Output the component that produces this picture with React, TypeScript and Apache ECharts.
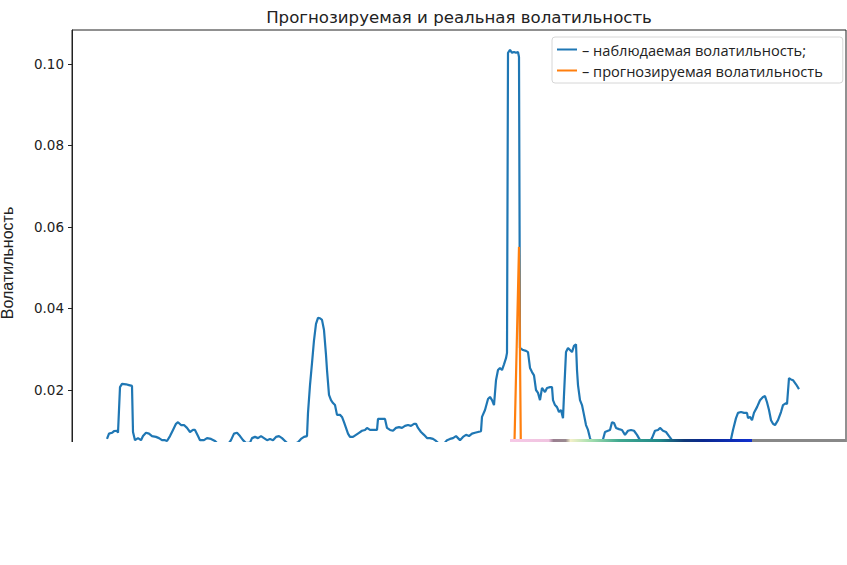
import React, { useEffect, useRef } from "react";
import * as echarts from "echarts";

const chartTitle = "Прогнозируемая и реальная волатильность";
const yAxisName = "Волатильность";
const seriesNames = ["– наблюдаемая волатильность;", "– прогнозируемая волатильность"];
const yTicks = [0.02, 0.04, 0.06, 0.08, 0.1];

// observed volatility: time index and value
const obsT = [
  0, 2, 5, 7, 10, 11, 13, 15, 19, 22, 25, 26, 28, 31, 34, 36, 39, 42, 45, 49, 52, 55, 58, 60, 63, 66, 69, 71, 74, 77,
  80, 83, 86, 88, 91, 93, 97, 100, 104, 108, 110, 116, 122, 124, 127, 130, 133, 136, 139, 143, 145, 148, 151, 154, 157,
  160, 163, 166, 169, 172, 175, 178, 181, 186, 191, 194, 197, 200, 201, 203, 205, 207, 209, 211, 213, 215, 217, 219,
  220, 222, 224, 226, 228, 230, 233, 235, 237, 239, 241, 243, 246, 249, 252, 255, 258, 260, 263, 267, 270, 271, 275,
  278, 280, 283, 286, 289, 292, 295, 298, 301, 304, 307, 309, 311, 314, 317, 320, 323, 326, 329, 333, 337, 340, 343,
  346, 349, 351, 353, 356, 359, 362, 365, 368, 371, 374, 375, 378, 381, 383, 385, 387, 389, 391, 393, 395, 397, 399,
  400, 401, 403, 405, 407, 409, 411, 412, 413, 416, 419, 421, 423, 425, 427, 429, 431, 433, 435, 438, 440, 443, 445,
  446, 448, 450, 452, 454, 456, 457, 459, 461, 463, 465, 467, 469, 470, 471, 473, 475, 477, 479, 481, 483, 485, 490,
  495, 498, 501, 503, 505, 507, 509, 512, 515, 518, 521, 524, 527, 530, 533, 536, 541, 545, 548, 551, 553, 556, 559,
  562, 565, 568, 583, 598, 613, 623, 626, 629, 631, 634, 637, 640, 641, 643, 645, 647, 650, 653, 656, 658, 660, 662,
  664, 666, 668, 671, 674, 676, 679, 680, 682, 684, 686, 689, 692,
];
const obsV = [
  0.008, 0.0093, 0.0095, 0.0099, 0.01, 0.0095, 0.0207, 0.0215, 0.0214, 0.0212, 0.021, 0.0097, 0.0077, 0.0082, 0.0077,
  0.0087, 0.0095, 0.0093, 0.0087, 0.0085, 0.0082, 0.0077, 0.0077, 0.0075, 0.0087, 0.0102, 0.0117, 0.0121, 0.0114,
  0.0114, 0.0107, 0.0097, 0.0102, 0.0102, 0.0087, 0.0077, 0.0077, 0.0082, 0.008, 0.0075, 0.007, 0.0062, 0.007, 0.0077,
  0.0093, 0.0095, 0.0087, 0.0077, 0.007, 0.0071, 0.0082, 0.0085, 0.0082, 0.0087, 0.0082, 0.0077, 0.008, 0.0077, 0.0085,
  0.0087, 0.0082, 0.0075, 0.0068, 0.0066, 0.0072, 0.008, 0.0085, 0.0087, 0.0144, 0.0212, 0.0266, 0.0322, 0.0362,
  0.0377, 0.0376, 0.0372, 0.0347, 0.0286, 0.0249, 0.0188, 0.0175, 0.0168, 0.0163, 0.0139, 0.0139, 0.0134, 0.0121,
  0.0107, 0.0093, 0.0085, 0.0085, 0.009, 0.0095, 0.01, 0.0102, 0.0107, 0.0102, 0.0102, 0.0102, 0.0129, 0.0129, 0.0129,
  0.0107, 0.0102, 0.01, 0.0107, 0.0109, 0.0107, 0.0112, 0.0114, 0.0112, 0.0117, 0.0117, 0.0107, 0.0097, 0.009, 0.0082,
  0.0082, 0.008, 0.0075, 0.0066, 0.0068, 0.0077, 0.008, 0.0082, 0.0087, 0.0082, 0.0077, 0.0085, 0.009, 0.0087, 0.0093,
  0.0095, 0.0097, 0.0099, 0.0134, 0.0151, 0.0178, 0.0183, 0.0175, 0.0163, 0.0224, 0.0249, 0.0254, 0.0249, 0.0263,
  0.0278, 0.0291, 0.1027, 0.1034, 0.1027, 0.1029, 0.1027, 0.1029, 0.1017, 0.0303, 0.0298, 0.0296, 0.0293, 0.0254,
  0.0244, 0.0236, 0.02, 0.0193, 0.0175, 0.0205, 0.0195, 0.0205, 0.0207, 0.0207, 0.0175, 0.0163, 0.0158, 0.0146, 0.0151,
  0.0131, 0.0188, 0.0293, 0.0303, 0.0298, 0.0293, 0.0308, 0.0312, 0.0249, 0.0212, 0.0175, 0.0163, 0.0139, 0.0114,
  0.0102, 0.0082, 0.007, 0.0066, 0.007, 0.0097, 0.01, 0.0102, 0.0121, 0.0119, 0.0107, 0.0104, 0.0102, 0.009, 0.01,
  0.0102, 0.01, 0.009, 0.0077, 0.0068, 0.0066, 0.0082, 0.01, 0.0102, 0.0107, 0.01, 0.0097, 0.0087, 0.0077, 0.0068,
  0.0062, 0.0064, 0.0062, 0.0068, 0.0102, 0.0131, 0.0144, 0.0146, 0.0144, 0.0144, 0.0131, 0.0134, 0.0126, 0.0144,
  0.0158, 0.0175, 0.0183, 0.0185, 0.017, 0.0151, 0.0126, 0.0117, 0.0114, 0.0126, 0.0146, 0.0163, 0.0168, 0.0165,
  0.0229, 0.0226, 0.0224, 0.0214, 0.0202,
];

// forecast volatility
const predT = [395, 407, 412, 414, 425];
const predV = [0.002, 0.002, 0.0551, 0.002, 0.002];

export default function App() {
  const ref = useRef<HTMLDivElement>(null);
  useEffect(() => {
    if (!ref.current) return;
    const chart = echarts.init(ref.current, null, { renderer: "svg" });
    const obs = obsT.map((t, i) => [t, obsV[i]]);
    const pred = predT.map((t, i) => [t, predV[i]]);
    const stripGradient = new echarts.graphic.LinearGradient(0, 0, 1, 0, [
      { offset: 0, color: "#f6c8e6" },
      { offset: 0.16, color: "#f0c4e0" },
      { offset: 0.18, color: "#9a7f90" },
      { offset: 0.23, color: "#9a8a90" },
      { offset: 0.25, color: "#f4f0c8" },
      { offset: 0.33, color: "#a8e0b0" },
      { offset: 0.45, color: "#40a890" },
      { offset: 0.62, color: "#208888" },
      { offset: 0.72, color: "#103878" },
      { offset: 0.8, color: "#0a2890" },
      { offset: 1, color: "#1030d0" },
    ]);
    chart.setOption({
      animation: false,
      backgroundColor: "#ffffff",
      grid: {
        left: 72,
        right: 1,
        top: 30,
        bottom: 69,
        containLabel: false,
        outerBoundsMode: "none",
        show: true,
        borderColor: "#222",
        borderWidth: 1,
        backgroundColor: "transparent",
      },
      xAxis: {
        type: "value",
        min: -35,
        max: 739,
        show: false,
      },
      yAxis: {
        type: "value",
        min: -0.006,
        max: 0.1083,
        name: yAxisName,
        nameLocation: "middle",
        nameRotate: 90,
        nameGap: 57,
        nameTextStyle: { fontFamily: "Liberation Sans", fontSize: 16, color: "#222" },
        axisLine: { show: true, onZero: false, lineStyle: { color: "#222", width: 1 } },
        axisTick: { show: true, length: 4, customValues: yTicks, lineStyle: { color: "#222" } },
        axisLabel: {
          customValues: yTicks,
          margin: 8,
          fontFamily: "DejaVu Sans",
          fontSize: 13.5,
          color: "#222",
          formatter: (v: number) => v.toFixed(2),
        },
        splitLine: { show: false },
      },
      legend: {
        left: 552,
        top: 37,
        orient: "vertical",
        data: seriesNames,
        icon: "rect",
        itemWidth: 20,
        itemHeight: 2,
        itemGap: 6,
        padding: [5, 20, 5, 5],
        backgroundColor: "rgba(255,255,255,0.85)",
        borderColor: "#d6d6d6",
        borderWidth: 1,
        borderRadius: 3,
        textStyle: { fontFamily: "Open Sans", fontSize: 14.6, color: "#222" },
      },
      series: [
        {
          name: seriesNames[0],
          type: "line",
          data: obs,
          showSymbol: false,
          color: "#1f77b4",
          lineStyle: { width: 2.2, color: "#1f77b4" },
          z: 2,
        },
        {
          name: seriesNames[1],
          type: "line",
          data: pred,
          showSymbol: false,
          color: "#ff7f0e",
          lineStyle: { width: 2.2, color: "#ff7f0e" },
          z: 3,
        },
      ],
      graphic: [
        {
          type: "text",
          x: 459,
          y: 17,
          style: {
            text: chartTitle,
            font: "16.6px 'DejaVu Sans'",
            fill: "#222",
            align: "center",
            verticalAlign: "middle",
          },
        },
        {
          type: "rect",
          z: 100,
          shape: { x: 0, y: 442, width: 847, height: 123 },
          style: { fill: "#ffffff" },
        },
        {
          type: "rect",
          z: 101,
          shape: { x: 510, y: 439, width: 242, height: 3 },
          style: { fill: stripGradient },
        },
        {
          type: "rect",
          z: 101,
          shape: { x: 752, y: 439, width: 94, height: 3 },
          style: { fill: "#888888" },
        },
      ],
    });
    return () => chart.dispose();
  }, []);
  return (
    <div
      ref={ref}
      style={{ position: "fixed", left: 0, top: 0, width: 847, height: 565, background: "#fff" }}
    />
  );
}
